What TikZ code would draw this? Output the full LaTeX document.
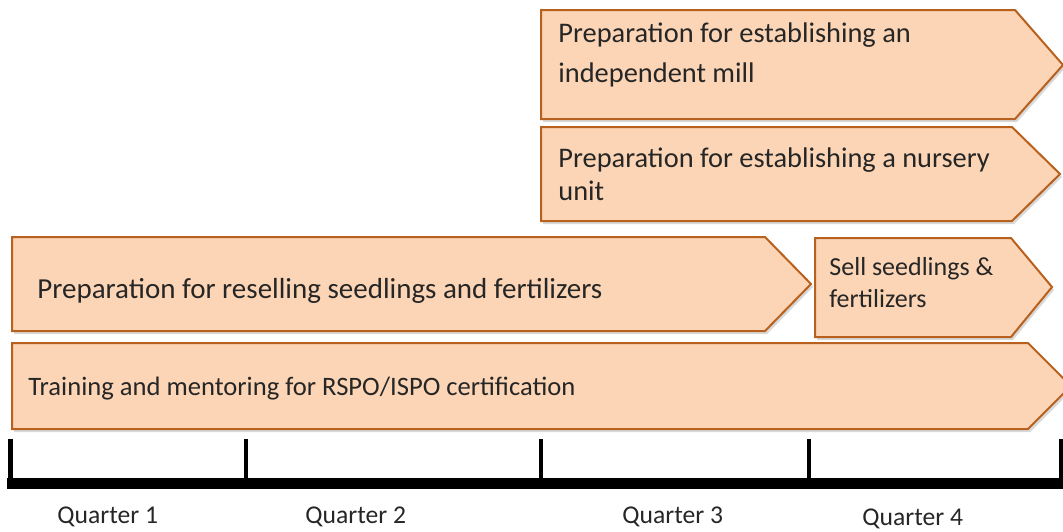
\documentclass[tikz,border=0pt]{standalone}
\usepackage{fontspec}
\setmainfont{Carlito}
\usetikzlibrary{shadows}

\definecolor{peche}{HTML}{FBD5B5}
\definecolor{brique}{HTML}{B8611E}
\definecolor{encre}{HTML}{262626}

\tikzset{
  etape/.style={draw=brique, fill=peche, line width=1pt, line join=miter,
    drop shadow={shadow xshift=1pt, shadow yshift=-1.5pt, opacity=0.25, fill=black!60}},
  libelle/.style={text=encre, inner sep=0pt, anchor=base west, align=left,
    font=\fontsize{14.5}{16.5}\selectfont},
  trimestre/.style={libelle, font=\fontsize{12.8}{15}\selectfont},
  graduation/.style={line width=2pt}
}

\begin{document}
\begin{tikzpicture}[x=0.5pt, y=-0.5pt]
              \useasboundingbox (0,0) rectangle (1063,531);
              \clip (0,0) rectangle (1063,531);

              % Les flèches des activités
              \draw[etape] (541,10) -- (1015,10) -- (1063,65) -- (1015,119) -- (541,119) -- cycle;
              \draw[etape] (541,127) -- (1012,127) -- (1060,174) -- (1012,221) -- (541,221) -- cycle;
              \draw[etape] (12,237) -- (765,237) -- (811,284) -- (765,331) -- (12,331) -- cycle;
              \draw[etape] (815,238) -- (1011,238) -- (1052,287) -- (1011,337) -- (815,337) -- cycle;
              \draw[etape] (12,343) -- (1028,343) -- (1071,386) -- (1028,429) -- (12,429) -- cycle;

              % Les textes des activités
              \node[libelle, font=\fontsize{14.2}{20}\selectfont] (moulin) at (558,82) {Preparation for establishing an\\independent mill};
              \node[libelle, font=\fontsize{14.2}{16.5}\selectfont] (pepiniere) at (558,200) {Preparation for establishing a nursery\\unit};
              \node[libelle] (revente) at (37,298) {Preparation for reselling seedlings and fertilizers};
              \node[libelle, font=\fontsize{13}{16}\selectfont] (vente) at (829,307) {Sell seedlings \&\\fertilizers};
              \node[libelle, font=\fontsize{13.3}{15}\selectfont] (formation) at (28,395) {Training and mentoring for RSPO/ISPO certification};

              % L'axe du temps
              \draw[line width=5.5pt] (7,483) -- (1063,483);
              \draw[line width=2.5pt] (10,439) -- (10,483);
              \draw[graduation] (246,439) -- (246,483);
              \draw[graduation] (541,439) -- (541,483);
              \draw[graduation] (809,439) -- (809,483);
              \draw[graduation] (1061,439) -- (1061,483);

              % Les trimestres
              \node[trimestre] (q1) at (57,523) {Quarter 1};
              \node[trimestre] (q2) at (305,523) {Quarter 2};
              \node[trimestre] (q3) at (622,523) {Quarter 3};
              \node[trimestre] (q4) at (862,525) {Quarter 4};
            \end{tikzpicture}
\end{document}
